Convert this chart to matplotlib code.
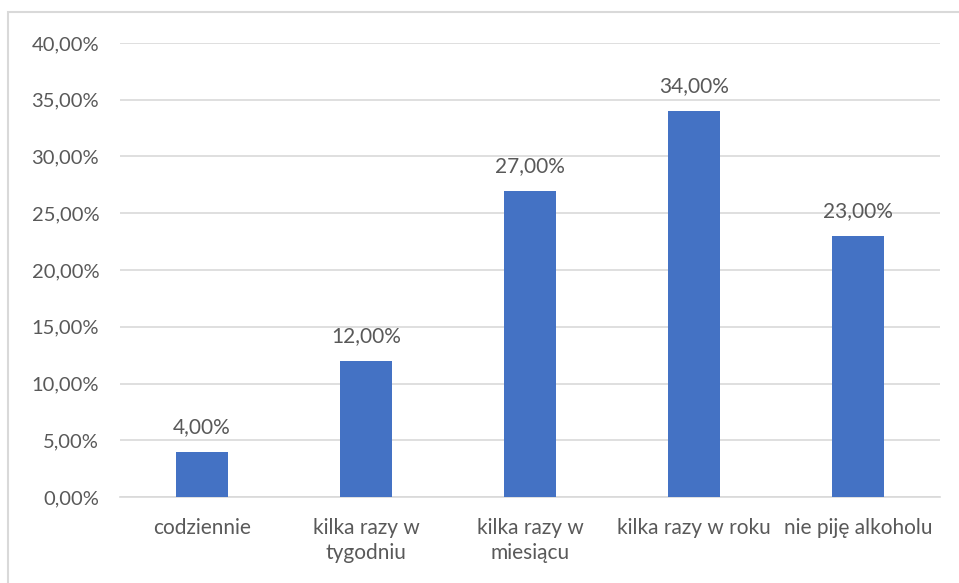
import matplotlib.pyplot as plt
from matplotlib.patches import Rectangle
from matplotlib.ticker import FuncFormatter

categories = ["codziennie", "kilka razy w\ntygodniu", "kilka razy w\nmiesiącu",
              "kilka razy w roku", "nie piję alkoholu"]
values = [4.0, 12.0, 27.0, 34.0, 23.0]
yticks = [0, 5, 10, 15, 20, 25, 30, 35, 40]

plt.rcParams['font.family'] = ['Lato', 'DejaVu Sans']
text_color = '#595959'

fig = plt.figure(figsize=(9.59, 5.83), dpi=100)
ax = fig.add_axes([120/959, 1 - 497/583, 820/959, 454/583])

x = range(len(categories))
ax.bar(x, values, width=0.317, color='#4472C4', zorder=3)

for xi, v in zip(x, values):
    ax.text(xi, v + 1.3, f"{v:.2f}%".replace('.', ','), ha='center', va='bottom',
            fontsize=15, color=text_color)

ax.set_xlim(-0.5, len(categories) - 0.5)
ax.set_ylim(0, 40)
ax.set_yticks(yticks)
ax.yaxis.set_major_formatter(FuncFormatter(lambda v, p: f"{v:.2f}%".replace('.', ',')))
ax.set_xticks(list(x))
ax.set_xticklabels(categories, linespacing=1.3)
ax.grid(axis='y', color='#D9D9D9', linewidth=1.2, zorder=0)
for s in ['top', 'right', 'left']:
    ax.spines[s].set_visible(False)
ax.spines['bottom'].set_color('#D9D9D9')
ax.spines['bottom'].set_linewidth(1.2)
ax.tick_params(axis='both', length=0, colors=text_color)
ax.tick_params(axis='y', pad=15, labelsize=14.5)
ax.tick_params(axis='x', pad=15, labelsize=15)

# chart border
fig.patches.append(Rectangle((8/959, -0.01), 1.0, 1 - 12/583 + 0.01, transform=fig.transFigure,
                             fill=False, edgecolor='#D9D9D9', linewidth=1.5))

fig.savefig('out.png', dpi=100)
